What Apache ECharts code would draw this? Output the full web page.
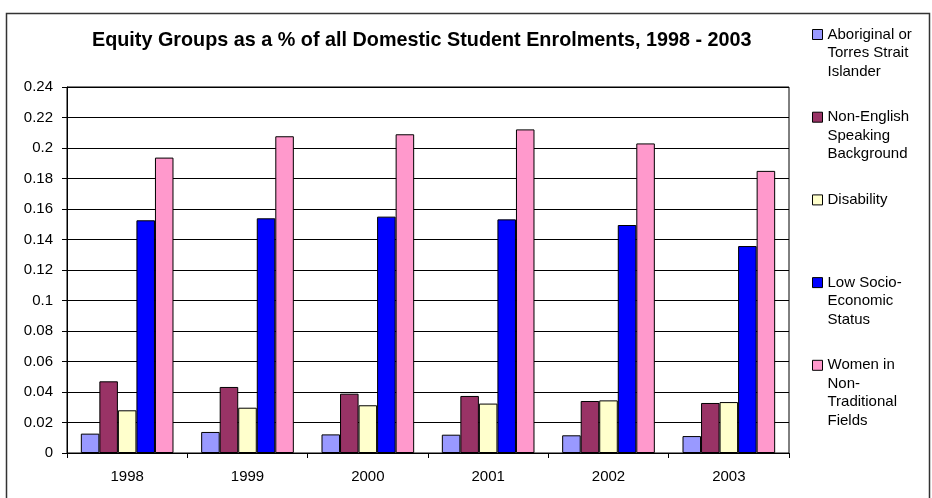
<!DOCTYPE html>
<html>
<head>
<meta charset="utf-8">
<title>Equity Groups</title>
<script src="https://cdn.jsdelivr.net/npm/echarts@6/dist/echarts.min.js"></script>
<style>
  html, body { margin: 0; padding: 0; background: #fff; }
  #chart { width: 932px; height: 498px; }
</style>
</head>
<body>
<div id="chart"></div>
<script>
// values (share of all domestic enrolments)
const years = ['1998', '1999', '2000', '2001', '2002', '2003']
const groupNames = [
  'Aboriginal or\nTorres Strait\nIslander',
  'Non-English\nSpeaking\nBackground',
  'Disability',
  'Low Socio-\nEconomic\nStatus',
  'Women in\nNon-\nTraditional\nFields',
]
const aboriginal = [0.0127, 0.0138, 0.0122, 0.012, 0.0116, 0.0111]
const nonEnglish = [0.047, 0.0433, 0.0389, 0.0374, 0.0341, 0.0328]
const disability = [0.028, 0.0297, 0.0313, 0.0324, 0.0345, 0.0334]
const lowSes = [0.1526, 0.1539, 0.155, 0.1532, 0.1495, 0.1357]
const women = [0.1937, 0.2077, 0.209, 0.2122, 0.203, 0.185]
const yTicks = { min: 0, max: 0.24, interval: 0.02 }

const groupValues = [aboriginal, nonEnglish, disability, lowSes, women]
const barColors = ['#9999ff', '#993366', '#ffffcc', '#0000ff', '#ff99cc']
const fontFamily = '"Liberation Sans", Arial, sans-serif'
const lineH = 18.5

function buildLegends() {
  // one legend per group so the icons sit evenly like Excel's,
  // blank lines on top push the first text line level with the icon
  return groupNames.map((name, i) => {
    const lines = name.split('\n').length
    const iconCenter = 34.5 + i * 82.7
    return {
      left: 812,
      top: iconCenter - (lines - 0.5) * lineH,
      orient: 'vertical',
      padding: 0,
      itemWidth: 10,
      itemHeight: 10,
      itemGap: 0,
      icon: 'rect',
      selectedMode: false,
      itemStyle: { borderColor: '#000', borderWidth: 1 },
      textStyle: {
        color: '#000',
        fontSize: 15,
        fontFamily: fontFamily,
        lineHeight: lineH,
      },
      formatter: (n) => ' \n'.repeat(lines - 1) + n,
      data: [name],
    }
  })
}

function getOption() {
  return {
    animation: false,
    backgroundColor: '#fff',
    title: {
      text: 'Equity Groups as a % of all Domestic Student Enrolments, 1998 - 2003',
      left: 92,
      top: 31,
      padding: 0,
      textStyle: {
        color: '#000',
        fontSize: 19.8,
        fontWeight: 'bold',
        fontFamily: fontFamily,
      },
    },
    legend: buildLegends(),
    graphic: [
      {
        type: 'rect',
        shape: { x: 6.5, y: 13.5, width: 923, height: 500 },
        style: { fill: 'none', stroke: '#333', lineWidth: 1.5 },
        silent: true,
      },
    ],
    grid: {
      left: 67,
      right: 143,
      top: 87,
      bottom: 45,
      show: true,
      borderColor: '#000',
      borderWidth: 1,
      backgroundColor: 'transparent',
    },
    xAxis: {
      type: 'category',
      data: years,
      axisLine: { lineStyle: { color: '#000', width: 1 } },
      axisTick: { show: true, length: 5, lineStyle: { color: '#000' } },
      axisLabel: { color: '#000', fontSize: 15, fontFamily: fontFamily, margin: 16 },
    },
    yAxis: {
      type: 'value',
      min: yTicks.min,
      max: yTicks.max,
      interval: yTicks.interval,
      axisLine: { show: true, lineStyle: { color: '#000', width: 1 } },
      axisTick: { show: true, length: 5, lineStyle: { color: '#000' } },
      axisLabel: { color: '#000', fontSize: 15, fontFamily: fontFamily, margin: 14 },
      splitLine: { show: true, lineStyle: { color: '#000', width: 1 } },
    },
    series: groupNames.map((name, i) => ({
      name: name,
      type: 'bar',
      barGap: '0%',
      barCategoryGap: '23%',
      itemStyle: {
        color: barColors[i],
        borderColor: '#000',
        borderWidth: 1,
      },
      data: groupValues[i],
    })),
  }
}

const chartEl = document.getElementById('chart')
const chartInstance = echarts.init(chartEl)
chartInstance.setOption(getOption())

window.addEventListener('resize', () => {
  chartInstance.resize()
})
</script>
</body>
</html>
